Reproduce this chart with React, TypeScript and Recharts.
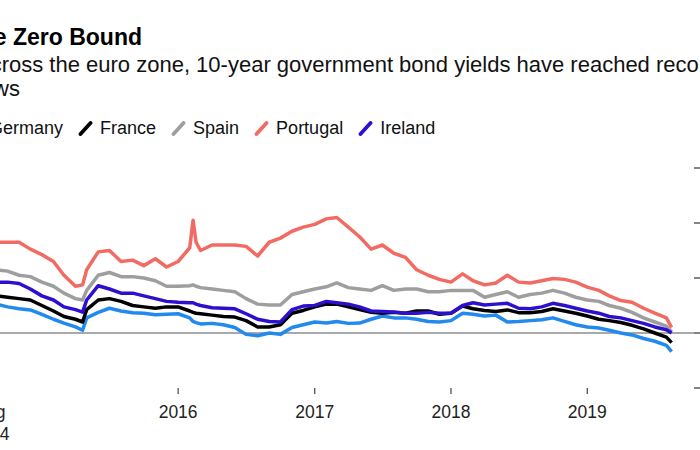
import React from "react";
import { LineChart, Line, XAxis, YAxis, ReferenceLine } from "recharts";

const FONT = '"Liberation Sans", Arial, Helvetica, sans-serif';

const titleText = "Below the Zero Bound";
const subtitleLine1 = "Across the euro zone, 10-year government bond yields have reached record";
const subtitleLine2 = "lows";

const dates = [
  "2014-08-15", "2014-09-01", "2014-10-01", "2014-11-01", "2014-12-01",
  "2015-01-01", "2015-02-01", "2015-03-01", "2015-04-01", "2015-04-20",
  "2015-05-01", "2015-06-01", "2015-07-01", "2015-08-01", "2015-09-01",
  "2015-10-01", "2015-11-01", "2015-12-01", "2016-01-01", "2016-02-01",
  "2016-02-10", "2016-02-18", "2016-03-01", "2016-04-01", "2016-05-01",
  "2016-06-01", "2016-07-01", "2016-08-01", "2016-09-01", "2016-10-01",
  "2016-11-01", "2016-12-01", "2017-01-01", "2017-02-01", "2017-03-01",
  "2017-04-01", "2017-05-01", "2017-06-01", "2017-07-01", "2017-08-01",
  "2017-09-01", "2017-10-01", "2017-11-01", "2017-12-01", "2018-01-01",
  "2018-02-01", "2018-03-01", "2018-04-01", "2018-05-01", "2018-06-01",
  "2018-07-01", "2018-08-01", "2018-09-01", "2018-10-01", "2018-11-01",
  "2018-12-01", "2019-01-01", "2019-02-01", "2019-03-01", "2019-04-01",
  "2019-05-01", "2019-06-01", "2019-07-01", "2019-08-01", "2019-08-15",
];

const portugal = [
  3.4, 3.3, 3.3, 3.3, 3.05, 2.85, 2.6, 2.1, 1.7, 1.75,
  2.3, 2.95, 3.0, 2.6, 2.65, 2.45, 2.7, 2.4, 2.6, 3.1,
  4.1, 3.3, 3.0, 3.2, 3.2, 3.2, 3.15, 2.8, 3.3, 3.45,
  3.7, 3.85, 3.95, 4.15, 4.2, 3.85, 3.5, 3.05, 3.2, 2.9,
  2.75, 2.3, 2.1, 1.95, 1.85, 2.15, 1.9, 1.75, 1.82, 2.1,
  1.85, 1.82, 1.9, 1.98, 1.95, 1.85, 1.67, 1.55, 1.35, 1.18,
  1.12, 0.9, 0.72, 0.55, 0.2,
];

const spain = [
  2.4, 2.3, 2.25, 2.1, 2.05, 1.85, 1.7, 1.45, 1.25, 1.2,
  1.55, 2.1, 2.2, 2.05, 2.05, 2.0, 1.9, 1.7, 1.7, 1.72,
  1.75, 1.7, 1.65, 1.6, 1.55, 1.5, 1.25, 1.05, 1.02, 1.02,
  1.4, 1.5, 1.6, 1.68, 1.82, 1.65, 1.6, 1.55, 1.72, 1.55,
  1.6, 1.6, 1.5, 1.5, 1.55, 1.55, 1.55, 1.3, 1.4, 1.5,
  1.3, 1.4, 1.45, 1.55, 1.45, 1.3, 1.2, 1.15, 1.0, 0.9,
  0.75, 0.55, 0.4, 0.25, 0.05,
];

const ireland = [
  1.95, 1.85, 1.85, 1.8, 1.6, 1.35, 1.2, 0.95, 0.85, 0.76,
  1.2, 1.72, 1.6, 1.45, 1.45, 1.35, 1.25, 1.15, 1.12, 1.1,
  1.1, 1.05, 1.0, 0.92, 0.9, 0.88, 0.7, 0.5, 0.42, 0.4,
  0.85, 0.98, 1.0, 1.15, 1.1, 1.05, 0.95, 0.8, 0.78, 0.76,
  0.72, 0.72, 0.75, 0.72, 0.72, 1.0, 1.1, 1.02, 1.05, 1.08,
  0.9, 0.88, 0.95, 1.08, 1.0, 0.9, 0.8, 0.72, 0.6, 0.55,
  0.45, 0.35, 0.22, 0.12, 0.0,
];

const france = [
  1.5, 1.35, 1.3, 1.25, 1.2, 1.0, 0.8, 0.6, 0.5, 0.4,
  0.85, 1.2, 1.25, 1.15, 1.0, 0.95, 0.9, 0.95, 0.95, 0.8,
  0.75, 0.72, 0.7, 0.65, 0.6, 0.58, 0.45, 0.22, 0.22, 0.3,
  0.72, 0.82, 0.95, 1.05, 1.05, 0.95, 0.85, 0.75, 0.72, 0.75,
  0.72, 0.8, 0.8, 0.68, 0.72, 0.98, 0.88, 0.82, 0.78, 0.84,
  0.74, 0.74, 0.78, 0.88, 0.8, 0.72, 0.62, 0.5, 0.45, 0.38,
  0.28, 0.15, 0.0, -0.15, -0.35,
];

const germany = [
  1.1, 1.05, 0.95, 0.88, 0.84, 0.68, 0.5, 0.36, 0.22, 0.1,
  0.55, 0.75, 0.9, 0.8, 0.74, 0.72, 0.66, 0.68, 0.7, 0.55,
  0.42, 0.38, 0.33, 0.35, 0.3, 0.2, -0.05, -0.1, 0.0, -0.05,
  0.2, 0.3, 0.4, 0.36, 0.42, 0.35, 0.36, 0.5, 0.62, 0.55,
  0.55, 0.5, 0.42, 0.4, 0.45, 0.72, 0.68, 0.62, 0.65, 0.4,
  0.42, 0.45, 0.48, 0.55, 0.42, 0.3, 0.22, 0.18, 0.1, 0.0,
  -0.07, -0.2, -0.3, -0.45, -0.68,
];

const seriesNames = ["Germany", "France", "Spain", "Portugal", "Ireland"];
const seriesColors = ["#2289ee", "#000000", "#9e9e9e", "#f26b63", "#2d0fd0"];
const seriesValues = [germany, france, spain, portugal, ireland];

const xTickDates = ["2014-08-15", "2016-01-01", "2017-01-01", "2018-01-01", "2019-01-01"];
const xTickLabels = [["Aug", "2014"], ["2016"], ["2017"], ["2018"], ["2019"]];
const xDomainDates = ["2014-08-15", "2019-10-14"];
const yTicks = [-2, 0, 2, 4, 6];

const toTime = (d: string) => Date.parse(d + "T00:00:00Z");

const data = dates.map((d, i) => {
  const row: Record<string, number> = { t: toTime(d) };
  seriesNames.forEach((name, k) => {
    row[name] = seriesValues[k][i];
  });
  return row;
});

const xTicks = xTickDates.map(toTime);

const XTick = (props: any) => {
  const { x, y, payload } = props;
  const idx = xTicks.indexOf(payload.value);
  const lines = idx >= 0 ? xTickLabels[idx] : [""];
  return (
    <g>
      {lines.map((ln, i) => (
        <text
          key={i}
          x={x}
          y={y + 24 + i * 22}
          textAnchor="middle"
          fontSize={17.5}
          fontFamily={FONT}
          fill="#222"
        >
          {ln}
        </text>
      ))}
    </g>
  );
};

const LegendIcon = ({ color }: { color: string }) => (
  <svg width={15} height={15} style={{ display: "block" }}>
    <line x1={2.5} y1={13} x2={12.5} y2={2} stroke={color} strokeWidth={3.8} strokeLinecap="round" />
  </svg>
);

export default function App() {
  return (
    <div
      style={{
        position: "absolute",
        left: 0,
        top: 0,
        width: 700,
        height: 450,
        overflow: "hidden",
        background: "#ffffff",
        fontFamily: FONT,
      }}
    >
      <svg
        width={700}
        height={110}
        style={{ position: "absolute", left: 0, top: 0 }}
      >
        <text x={142} y={45} textAnchor="end" fontSize={23} fontWeight={700} fill="#000" fontFamily={FONT}>
          {titleText}
        </text>
        <text x={-24} y={72} fontSize={22} fill="#111" fontFamily={FONT}>
          {subtitleLine1}
        </text>
        <text x={-24} y={96} fontSize={22} fill="#111" fontFamily={FONT}>
          {subtitleLine2}
        </text>
      </svg>

      <div
        style={{
          position: "absolute",
          left: -33,
          top: 118,
          display: "flex",
          alignItems: "center",
          whiteSpace: "nowrap",
          fontSize: 18,
          lineHeight: "20px",
          color: "#111",
        }}
      >
        {seriesNames.map((name, k) => (
          <div key={name} style={{ display: "flex", alignItems: "center", marginRight: 15 }}>
            <div style={{ marginRight: 7 }}>
              <LegendIcon color={seriesColors[k]} />
            </div>
            <span>{name}</span>
          </div>
        ))}
      </div>

      <div style={{ position: "absolute", left: -10, top: 158 }}>
        <LineChart
          width={744}
          height={290}
          data={data}
          margin={{ top: 10, right: 0, bottom: 0, left: 0 }}
        >
          <XAxis
            dataKey="t"
            type="number"
            domain={xDomainDates.map(toTime)}
            ticks={xTicks}
            allowDataOverflow
            axisLine={false}
            tickLine={{ stroke: "#444", strokeWidth: 1.2 }}
            tickSize={6}
            tickMargin={0}
            height={60}
            tick={<XTick />}
            interval={0}
          />
          <YAxis
            orientation="right"
            type="number"
            domain={[-2, 6]}
            ticks={yTicks}
            width={40}
            axisLine={false}
            tickLine={{ stroke: "#333", strokeWidth: 1.2 }}
            tickSize={7}
            tick={{ fontSize: 16, fill: "#222", fontFamily: FONT }}
            allowDataOverflow
          />
          <ReferenceLine y={0} stroke="#8c8c8c" strokeWidth={1.5} />
          {seriesNames.map((name, k) => (
            <Line
              key={name}
              type="linear"
              dataKey={name}
              stroke={seriesColors[k]}
              strokeWidth={3.5}
              dot={false}
              activeDot={false}
              strokeLinejoin="round"
              isAnimationActive={false}
            />
          ))}
        </LineChart>
      </div>
    </div>
  );
}
